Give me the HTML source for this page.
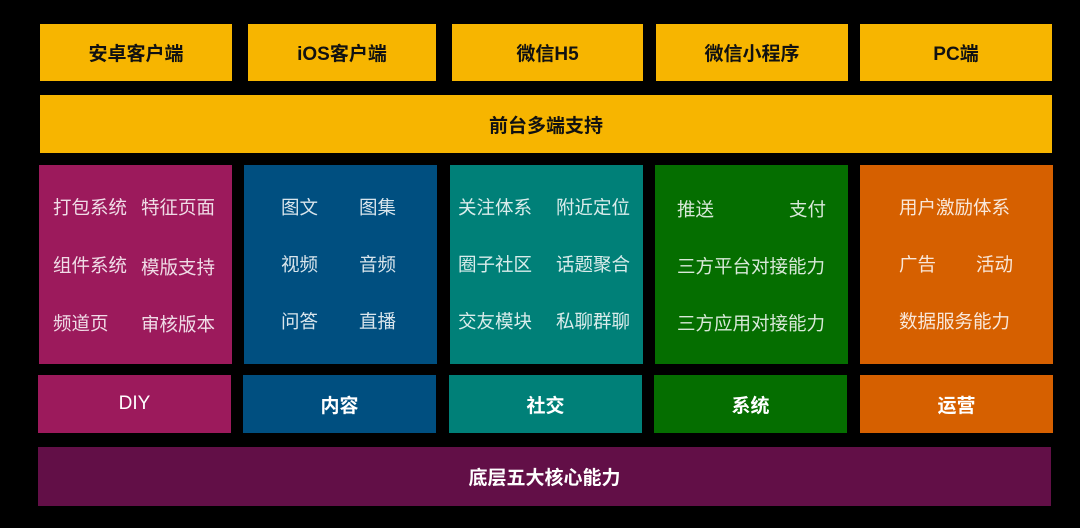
<!DOCTYPE html>
<html><head><meta charset="utf-8"><style>
*{margin:0;padding:0;box-sizing:border-box}
body{width:1080px;height:528px;background:#000;position:relative;overflow:hidden;font-family:"Liberation Sans","Noto Sans CJK SC",sans-serif}
.b{position:absolute;display:flex;align-items:center;justify-content:center;color:#fff;font-weight:bold;font-size:19px}
.y{background:#f7b500;color:#111}
.t{position:absolute;color:rgba(255,255,255,.85);font-size:18.5px;white-space:nowrap;transform:translateY(-50%)}
</style></head><body>
<div class="b y" style="left:40px;top:24px;width:192px;height:57px">安卓客户端</div>
<div class="b y" style="left:248px;top:24px;width:188px;height:57px">iOS客户端</div>
<div class="b y" style="left:452px;top:24px;width:191px;height:57px">微信H5</div>
<div class="b y" style="left:656px;top:24px;width:192px;height:57px">微信小程序</div>
<div class="b y" style="left:860px;top:24px;width:192px;height:57px">PC端</div>
<div class="b y" style="left:40px;top:95px;width:1012px;height:58px">前台多端支持</div>

<div class="b" style="left:39px;top:165px;width:193px;height:199px;background:#9c1a5c"></div>
<div class="b" style="left:244px;top:165px;width:193px;height:199px;background:#004f80"></div>
<div class="b" style="left:450px;top:165px;width:193px;height:199px;background:#008078"></div>
<div class="b" style="left:655px;top:165px;width:193px;height:199px;background:#056e00"></div>
<div class="b" style="left:860px;top:165px;width:193px;height:199px;background:#d66000"></div>

<div class="t" style="left:53px;top:207px">打包系统</div><div class="t" style="left:141px;top:207px">特征页面</div>
<div class="t" style="left:53px;top:265px">组件系统</div><div class="t" style="left:141px;top:267px">模版支持</div>
<div class="t" style="left:53px;top:323px">频道页</div><div class="t" style="left:141px;top:324px">审核版本</div>

<div class="t" style="left:281px;top:207px">图文</div><div class="t" style="left:359px;top:207px">图集</div>
<div class="t" style="left:281px;top:264px">视频</div><div class="t" style="left:359px;top:264px">音频</div>
<div class="t" style="left:281px;top:321px">问答</div><div class="t" style="left:359px;top:321px">直播</div>

<div class="t" style="left:458px;top:207px">关注体系</div><div class="t" style="left:556px;top:207px">附近定位</div>
<div class="t" style="left:458px;top:264px">圈子社区</div><div class="t" style="left:556px;top:264px">话题聚合</div>
<div class="t" style="left:458px;top:321px">交友模块</div><div class="t" style="left:556px;top:321px">私聊群聊</div>

<div class="t" style="left:677px;top:209px">推送</div><div class="t" style="left:789px;top:209px">支付</div>
<div class="t" style="left:677px;top:266px">三方平台对接能力</div>
<div class="t" style="left:677px;top:323px">三方应用对接能力</div>

<div class="t" style="left:899px;top:207px">用户激励体系</div>
<div class="t" style="left:899px;top:264px">广告</div><div class="t" style="left:976px;top:264px">活动</div>
<div class="t" style="left:899px;top:321px">数据服务能力</div>

<div class="b" style="left:38px;top:375px;width:193px;height:58px;background:#9c1a5c;font-weight:normal">DIY</div>
<div class="b" style="left:243px;top:375px;width:193px;height:58px;background:#004f80">内容</div>
<div class="b" style="left:449px;top:375px;width:193px;height:58px;background:#008078">社交</div>
<div class="b" style="left:654px;top:375px;width:193px;height:58px;background:#056e00">系统</div>
<div class="b" style="left:860px;top:375px;width:193px;height:58px;background:#d66000">运营</div>
<div class="b" style="left:38px;top:447px;width:1013px;height:59px;background:#620f47">底层五大核心能力</div>
</body></html>
